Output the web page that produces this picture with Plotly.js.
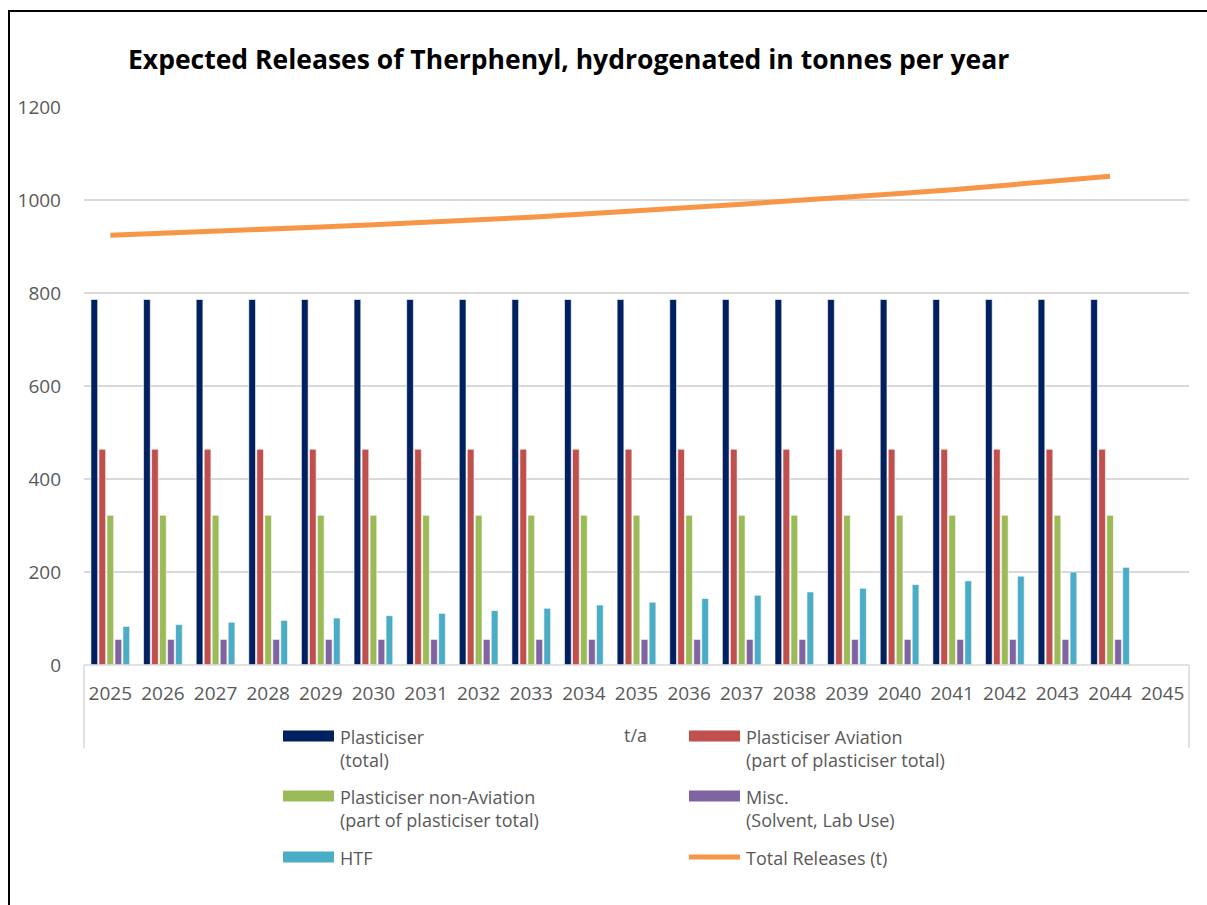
<!DOCTYPE html>
<html>
<head>
<meta charset="utf-8">
<script src="https://cdn.plot.ly/plotly-3.0.1.min.js"></script>
<style>
  html, body { margin: 0; padding: 0; background: #fff; overflow: hidden; }
  #wrap { width: 1207px; height: 905px; position: relative; overflow: hidden; }
  #chart { width: 1207px; height: 905px; position: absolute; left: 0; top: 0; }
  #frame { position: absolute; left: 8px; top: 10px; width: 1250px; height: 950px;
           border-left: 2px solid #000; border-top: 2px solid #000; pointer-events: none; box-sizing: border-box; }
</style>
</head>
<body>
<div id="wrap">
  <div id="chart"></div>
  <div id="frame"></div>
</div>
<script>
// ---- data ----
const years = ["2025","2026","2027","2028","2029","2030","2031","2032","2033","2034","2035",
               "2036","2037","2038","2039","2040","2041","2042","2043","2044","2045"];
const dataYears = years.slice(0, 20);
const plasticiserTotal = [786,786,786,786,786,786,786,786,786,786,786,786,786,786,786,786,786,786,786,786];
const plasticiserAviation = [464,464,464,464,464,464,464,464,464,464,464,464,464,464,464,464,464,464,464,464];
const plasticiserNonAviation = [322,322,322,322,322,322,322,322,322,322,322,322,322,322,322,322,322,322,322,322];
const misc = [55,55,55,55,55,55,55,55,55,55,55,55,55,55,55,55,55,55,55,55];
const htf = [83,87,92,96,101,106,111,117,122,129,135,143,150,157,165,173,181,191,200,210];
const totalReleases = [924,928,933,937,942,947,952,958,963,970,976,984,991,998,1006,1014,1022,1032,1041,1051];

const seriesNames = ["Plasticiser<br>(total)", "Plasticiser Aviation<br>(part of plasticiser total)",
                     "Plasticiser non-Aviation<br>(part of plasticiser total)", "Misc.<br>(Solvent, Lab Use)",
                     "HTF", "Total Releases (t)"];
const colors = ["#002060", "#C0504D", "#9BBB59", "#8064A2", "#4BACC6", "#F79646"];
const barSeries = [plasticiserTotal, plasticiserAviation, plasticiserNonAviation, misc, htf];

// ---- geometry ----
const W = 1207, H = 905;
const L = 84, R = 1189, T = 107, B = 665;
const pw = R - L, ph = B - T;
const px = x => (x - L) / pw;
const py = y => (B - y) / ph;

const traces = barSeries.map((vals, i) => ({
  type: "bar", x: dataYears, y: vals, name: seriesNames[i],
  marker: { color: colors[i], line: { color: "#ffffff", width: 0.6 } },
  showlegend: false, hoverinfo: "x+y"
}));
traces.push({
  type: "scatter", mode: "lines", x: dataYears, y: totalReleases, name: seriesNames[5],
  line: { color: colors[5], width: 5 }, showlegend: false
});

// ---- custom legend ----
const legendFont = { family: "Open Sans, sans-serif", size: 18, color: "#595959" };
const shapes = [];
const annotations = [];
const legendItems = [
  { col: 0, row: 0, i: 0, kind: "bar" },
  { col: 1, row: 0, i: 1, kind: "bar" },
  { col: 0, row: 1, i: 2, kind: "bar" },
  { col: 1, row: 1, i: 3, kind: "bar" },
  { col: 0, row: 2, i: 4, kind: "bar" },
  { col: 1, row: 2, i: 5, kind: "line" }
];
const colX = [283, 689];
const rowY = [736, 796, 857];
legendItems.forEach(it => {
  const x0 = colX[it.col], x1 = x0 + 51, yc = rowY[it.row];
  if (it.kind === "bar") {
    shapes.push({ type: "rect", xref: "paper", yref: "paper",
      x0: px(x0), x1: px(x1), y0: py(yc + 5.5), y1: py(yc - 5.5),
      fillcolor: colors[it.i], line: { width: 0 } });
  } else {
    shapes.push({ type: "line", xref: "paper", yref: "paper",
      x0: px(x0), x1: px(x1), y0: py(yc), y1: py(yc),
      line: { color: colors[it.i], width: 5 } });
  }
  annotations.push({ xref: "paper", yref: "paper", x: px(x1 + 4), y: py(yc - 13),
    xanchor: "left", yanchor: "top", align: "left", showarrow: false,
    text: seriesNames[it.i], font: legendFont });
});
// axis title "t/a"
annotations.push({ xref: "paper", yref: "paper", x: px(635), y: py(735), xanchor: "center", yanchor: "middle",
  showarrow: false, text: "t/a", font: legendFont });
// category box lines below the axis
shapes.push({ type: "line", xref: "paper", yref: "paper", x0: 0, x1: 0, y0: 0, y1: py(748),
  line: { color: "#D9D9D9", width: 1.5 } });
shapes.push({ type: "line", xref: "paper", yref: "paper", x0: 1, x1: 1, y0: 0, y1: py(748),
  line: { color: "#D9D9D9", width: 1.5 } });
shapes.push({ type: "line", xref: "paper", yref: "paper", x0: 0, x1: 1, y0: 0, y1: 0,
  line: { color: "#D9D9D9", width: 1.5 } });

const layout = {
  width: W, height: H,
  margin: { l: L, r: W - R, t: T, b: H - B, pad: 0 },
  paper_bgcolor: "#ffffff", plot_bgcolor: "#ffffff",
  font: { family: "Open Sans, sans-serif", color: "#595959" },
  title: { text: "<b>Expected Releases of Therphenyl, hydrogenated in tonnes per year</b>",
    font: { family: "Open Sans, sans-serif", size: 26.5, color: "#000000" },
    xref: "container", yref: "container", x: 128 / W, xanchor: "left", y: 1 - 60 / H, yanchor: "middle" },
  barmode: "group", bargap: 0.24, bargroupgap: 0.16,
  xaxis: { type: "category", categoryorder: "array", categoryarray: years, range: [-0.5, 20.5],
    showgrid: false, zeroline: false, showline: false, ticks: "",
    tickfont: { family: "Open Sans, sans-serif", size: 19, color: "#595959" },
    ticklabelstandoff: 15, fixedrange: true },
  yaxis: { range: [0, 1200], dtick: 200, tick0: 0, showgrid: true, gridcolor: "#D9D9D9", gridwidth: 1.5,
    zeroline: false, showline: false, ticks: "",
    tickfont: { family: "Open Sans, sans-serif", size: 19, color: "#595959" },
    ticklabelstandoff: 22, fixedrange: true },
  shapes: shapes, annotations: annotations, showlegend: false
};

Plotly.newPlot("chart", traces, layout, { displayModeBar: false, staticPlot: true });
</script>
</body>
</html>
